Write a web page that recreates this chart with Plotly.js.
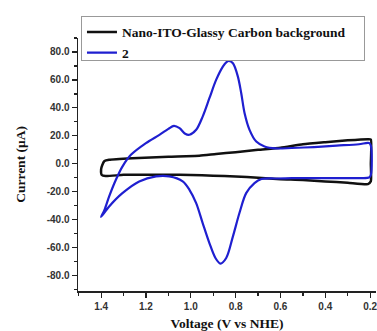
<!DOCTYPE html>
<html>
<head>
<meta charset="utf-8">
<script src="https://cdn.plot.ly/plotly-3.0.1.min.js"></script>
<style>html,body{margin:0;padding:0;background:#fff;}#chart{width:377px;height:331px;}</style>
</head>
<body>
<div id="chart"></div>
<script>
// Background (Nano-ITO-Glassy Carbon) loop
const bgVoltage = [1.395, 1.385, 1.364, 1.26, 1.1, 0.962, 0.887, 0.8, 0.7, 0.6, 0.5, 0.4, 0.3, 0.21, 0.197, 0.197, 0.197, 0.21, 0.3, 0.4, 0.5, 0.6, 0.7, 0.8, 0.9, 1.0, 1.1, 1.2, 1.3, 1.38, 1.397, 1.4, 1.395];
const bgCurrent = [-1, 2, 2.9, 4, 5, 5.7, 7, 8.3, 10, 11.5, 14, 15.5, 16.8, 17.6, 17.4, 0, -12.5, -14.5, -13.5, -12.6, -11.5, -11, -10, -9, -8.5, -8, -7.8, -7.8, -7.9, -8.8, -8, -4, -1];

// Compound 2 loop
const cvVoltage = [1.40, 1.385, 1.364, 1.334, 1.305, 1.267, 1.20, 1.14, 1.10, 1.075, 1.05, 1.025, 1.006, 0.976, 0.947, 0.917, 0.887, 0.857, 0.842, 0.830, 0.812, 0.79, 0.775, 0.76, 0.738, 0.708, 0.671, 0.62, 0.55, 0.45, 0.35, 0.25, 0.205, 0.197, 0.197, 0.205, 0.25, 0.35, 0.45, 0.55, 0.62, 0.685, 0.716, 0.753, 0.783, 0.812, 0.842, 0.868, 0.890, 0.917, 0.947, 0.976, 1.006, 1.036, 1.096, 1.155, 1.23, 1.305, 1.364, 1.40];
const cvCurrent = [-38, -33, -23.3, -11.4, -2, 6.4, 14.8, 20.7, 25, 27.2, 25.5, 21.5, 20.8, 24.3, 33.8, 46.9, 60, 69.5, 72.6, 73.6, 71.9, 62.4, 50.5, 36.2, 24.3, 15.9, 12.4, 11, 11.3, 12, 13, 14, 14.8, 13, -8, -9.8, -10.2, -10.2, -10.2, -10.3, -10.5, -10.9, -13.8, -21, -35.2, -51.9, -67.4, -71.4, -67.4, -56.7, -42.4, -28.1, -18.6, -12.6, -9, -9, -12.6, -21, -30.5, -38];

const seriesNames = ["Nano-ITO-Glassy Carbon background", "2"];
const yTicks = [-80, -60, -40, -20, 0, 20, 40, 60, 80];
const xTicks = [1.4, 1.2, 1.0, 0.8, 0.6, 0.4, 0.2];

const traces = [
  {x: bgVoltage, y: bgCurrent, name: seriesNames[0], mode: 'lines',
   line: {color: '#111111', width: 2.5, shape: 'spline', smoothing: 0.5}},
  {x: cvVoltage, y: cvCurrent, name: seriesNames[1], mode: 'lines',
   line: {color: '#1f1fd0', width: 2.2, shape: 'spline', smoothing: 0.9}}
];

const tickFont = {family: 'Liberation Sans, Arial, sans-serif', size: 10, color: '#333', weight: 'bold'};
const titleFont = {family: 'Liberation Serif, Times New Roman, serif', size: 13.5, color: '#111', weight: 'bold'};

const layout = {
  width: 377, height: 331,
  margin: {l: 78, r: 1, t: 38, b: 40},
  paper_bgcolor: '#fff', plot_bgcolor: '#fff',
  showlegend: true,
  legend: {x: 0.01, y: 1.088, xanchor: 'left', yanchor: 'top',
    bgcolor: '#fff', bordercolor: '#999', borderwidth: 1,
    font: {family: 'Liberation Serif, Times New Roman, serif', size: 13.5, color: '#111', weight: 'bold'},
    tracegroupgap: 0, itemwidth: 30},
  xaxis: {range: [1.503, 0.174], tickvals: xTicks, ticktext: xTicks.map(v => v.toFixed(1)),
    showgrid: false, zeroline: false, showline: true, linecolor: '#222', linewidth: 1.5,
    ticks: 'outside', ticklen: 5, tickwidth: 1.2, tickcolor: '#222', tickfont: tickFont,
    ticklabeloverflow: 'allow',
    minor: {dtick: 0.1, tick0: 0.2, ticks: 'outside', ticklen: 3, tickcolor: '#222', showgrid: false},
    title: {text: 'Voltage (V vs NHE)', font: titleFont, standoff: 8}},
  yaxis: {range: [-91, 90], tickvals: yTicks, ticktext: yTicks.map(v => v.toFixed(1)),
    showgrid: false, zeroline: false, showline: true, linecolor: '#222', linewidth: 1.5,
    ticks: 'outside', ticklen: 5, tickwidth: 1.2, tickcolor: '#222', tickfont: tickFont,
    minor: {dtick: 10, tick0: 0, ticks: 'outside', ticklen: 3, tickcolor: '#222', showgrid: false},
    title: {text: 'Current (μA)', font: titleFont, standoff: 18}}
};

Plotly.newPlot('chart', traces, layout, {displayModeBar: false, staticPlot: true}).then(() => {
  // Tighten legend box (shorter, wider) so the oxidation peak stays visible below it, as in the reference
  const lg = document.querySelector('.legend');
  const bg = lg && lg.querySelector('rect.bg');
  if (bg) {
    const h = parseFloat(bg.getAttribute('height'));
    const w = parseFloat(bg.getAttribute('width'));
    bg.setAttribute('height', Math.max(0, h - 9));
    bg.setAttribute('width', w + 13);
  }
});
</script>
</body>
</html>
